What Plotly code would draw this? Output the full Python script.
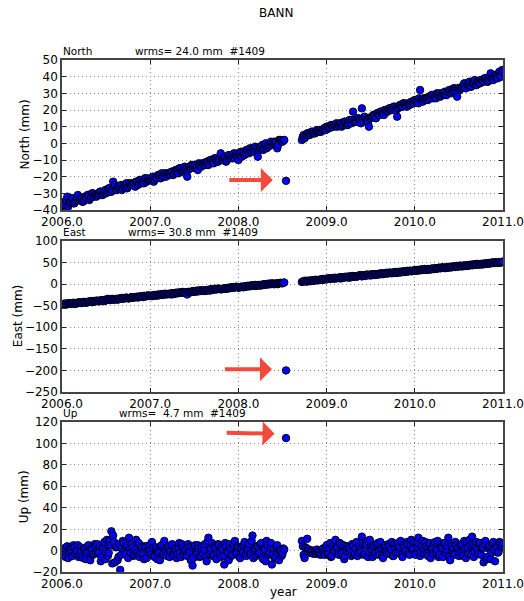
import plotly.graph_objects as go
from plotly.subplots import make_subplots

STATION = "BANN"

# sample epochs (decimal year), first set
EPOCHS = [
    2006.00, 2006.02, 2006.04, 2006.06, 2006.08, 2006.10, 2006.12, 2006.14, 2006.16, 2006.18,
    2006.20, 2006.22, 2006.24, 2006.26, 2006.28, 2006.30, 2006.32, 2006.34, 2006.36, 2006.38,
    2006.40, 2006.42, 2006.44, 2006.46, 2006.48, 2006.50, 2006.52, 2006.54, 2006.56, 2006.58,
    2006.60, 2006.62, 2006.64, 2006.66, 2006.68, 2006.70, 2006.72, 2006.74, 2006.76, 2006.78,
    2006.80, 2006.82, 2006.84, 2006.86, 2006.88, 2006.90, 2006.92, 2006.94, 2006.96, 2006.98,
    2007.00, 2007.02, 2007.04, 2007.06, 2007.08, 2007.10, 2007.12, 2007.14, 2007.16, 2007.18,
    2007.20, 2007.22, 2007.24, 2007.26, 2007.28, 2007.30, 2007.32, 2007.34, 2007.36, 2007.38,
    2007.40, 2007.42, 2007.44, 2007.46, 2007.48, 2007.50, 2007.52, 2007.54, 2007.56, 2007.58,
    2007.60, 2007.62, 2007.64, 2007.66, 2007.68, 2007.70, 2007.72, 2007.74, 2007.76, 2007.78,
    2007.80, 2007.82, 2007.84, 2007.86, 2007.88, 2007.90, 2007.92, 2007.94, 2007.96, 2007.98,
    2008.00, 2008.02, 2008.04, 2008.06, 2008.08, 2008.10, 2008.12, 2008.14, 2008.16, 2008.18,
    2008.20, 2008.22, 2008.24, 2008.26, 2008.28, 2008.30, 2008.32, 2008.34, 2008.36, 2008.38,
    2008.40, 2008.42, 2008.44, 2008.46, 2008.48, 2008.50, 2008.52,
    2008.54,
    2008.72, 2008.74, 2008.76, 2008.78, 2008.80, 2008.82, 2008.84, 2008.86, 2008.88, 2008.90,
    2008.92, 2008.94, 2008.96, 2008.98, 2009.00, 2009.02, 2009.04, 2009.06, 2009.08, 2009.10,
    2009.12, 2009.14, 2009.16, 2009.18, 2009.20, 2009.22, 2009.24, 2009.26, 2009.28, 2009.30,
    2009.32, 2009.34, 2009.36, 2009.38, 2009.40, 2009.42, 2009.44, 2009.46, 2009.48, 2009.50,
    2009.52, 2009.54, 2009.56, 2009.58, 2009.60, 2009.62, 2009.64, 2009.66, 2009.68, 2009.70,
    2009.72, 2009.74, 2009.76, 2009.78, 2009.80, 2009.82, 2009.84, 2009.86, 2009.88, 2009.90,
    2009.92, 2009.94, 2009.96, 2009.98, 2010.00, 2010.02, 2010.04, 2010.06, 2010.08, 2010.10,
    2010.12, 2010.14, 2010.16, 2010.18, 2010.20, 2010.22, 2010.24, 2010.26, 2010.28, 2010.30,
    2010.32, 2010.34, 2010.36, 2010.38, 2010.40, 2010.42, 2010.44, 2010.46, 2010.48, 2010.50,
    2010.52, 2010.54, 2010.56, 2010.58, 2010.60, 2010.62, 2010.64, 2010.66, 2010.68, 2010.70,
    2010.72, 2010.74, 2010.76, 2010.78, 2010.80, 2010.82, 2010.84, 2010.86, 2010.88, 2010.90,
    2010.92, 2010.94, 2010.96, 2010.98, 2011.00,
]

NORTH = [
    -38, -35, -37, -32, -36, -35, -33, -36, -34, -31,
    -34, -33, -35, -32, -33, -31, -33, -30, -32, -31,
    -31, -30, -29, -31, -29, -30, -28, -27, -29, -23,
    -25, -28, -27, -26, -28, -25, -26, -27, -24, -25,
    -25, -24, -23, -25, -22, -24, -23, -21, -23, -22,
    -22, -21, -23, -20, -21, -19, -21, -20, -18, -20,
    -19, -18, -17, -19, -17, -16, -18, -15, -17, -16,
    -16, -20, -14, -15, -13, -14, -15, -16, -13, -14,
    -13, -12, -11, -13, -10, -11, -12, -9, -11, -10,
    -6, -10, -9, -11, -8, -9, -7, -8, -9, -7,
    -10, -6, -8, -5, -6, -4, -6, -5, -3, -5,
    -4, -8, -3, -2, -4, -1, -3, -2, 0, -1,
    1, 0, -3, 2, 2, 1, 2,
    -22.5,
    2, 5, 4, 6, 5, 6, 7, 6, 7, 7,
    8, 7, 8, 9, 10, 9, 10, 11, 10, 11,
    10, 11, 12, 11, 13, 12, 11, 14, 12, 19,
    14, 13, 15, 14, 21, 13, 15, 14, 10, 15,
    16, 17, 15, 18, 17, 19, 18, 20, 19, 20,
    21, 20, 22, 21, 16, 22, 23, 22, 24, 23,
    24, 23, 25, 24, 26, 25, 24, 32, 26, 27,
    26, 27, 28, 27, 29, 28, 27, 29, 30, 29,
    30, 31, 29, 31, 32, 31, 33, 32, 28, 33,
    33, 34, 36, 33, 35, 37, 34, 36, 38, 35,
    37, 36, 38, 37, 39, 37, 38, 42, 39, 40,
    41, 39, 43, 40, 43,
]

EAST = [
    -47, -46, -48, -45, -46, -45, -44, -46, -44, -43,
    -43, -44, -42, -42, -43, -41, -40, -42, -40, -40,
    -39, -40, -38, -38, -39, -37, -34, -37, -36, -35,
    -35, -34, -35, -33, -34, -33, -32, -32, -33, -31,
    -31, -31, -30, -31, -29, -29, -30, -28, -28, -27,
    -27, -28, -26, -26, -25, -26, -24, -25, -23, -24,
    -23, -22, -24, -21, -22, -20, -21, -20, -19, -20,
    -20, -24, -18, -19, -17, -18, -16, -17, -15, -16,
    -15, -16, -14, -13, -15, -12, -13, -11, -12, -11,
    -12, -11, -10, -11, -9, -8, -9, -7, -8, -6,
    -8, -7, -6, -7, -5, -4, -5, -3, -4, -2,
    -4, -3, -2, -3, -1, 0, -1, 1, 0, 2,
    0, 1, 0, 2, 3, 2, 4,
    -200,
    5, 7, 8, 6, 8, 7, 9, 8, 10, 9,
    10, 11, 10, 12, 11, 13, 12, 14, 13, 13,
    14, 15, 13, 16, 15, 17, 16, 15, 18, 17,
    18, 17, 19, 21, 18, 20, 19, 22, 21, 20,
    22, 21, 23, 22, 24, 25, 23, 24, 26, 25,
    26, 25, 27, 28, 26, 28, 27, 29, 28, 30,
    29, 31, 30, 31, 32, 31, 33, 32, 34, 33,
    34, 33, 35, 34, 36, 35, 37, 36, 38, 37,
    38, 37, 39, 38, 40, 39, 41, 40, 42, 41,
    42, 41, 43, 42, 44, 43, 45, 44, 46, 45,
    46, 45, 47, 46, 48, 47, 49, 48, 50, 49,
    50, 49, 51, 50, 52,
]

UP = [
    -3, 2, -6, 4, -2, 1, -5, 3, -1, 5,
    -4, 0, -7, 2, -2, 5, -9, 1, -3, 4,
    6, -2, -10, 3, 8, -1, -5, 9, 18, 14,
    -11, 4, -6, -18, 2, 7, -3, 5, 12, -2,
    3, -4, 10, -1, -6, 2, -3, 4, -7, 1,
    0, 8, -5, 2, -8, -2, 4, -4, 9, -1,
    2, -6, 5, -3, 1, -7, 3, -2, 6, -4,
    1, -5, 3, -9, -14, 4, -2, 5, -6, 2,
    -3, 6, -10, 12, 0, 7, -4, 3, -2, 5,
    -6, 1, -13, 4, -2, 6, -5, 2, 9, -3,
    3, -7, 1, 5, -4, 2, 6, -3, 14, 0,
    -5, 4, -2, 7, -8, 1, 9, -4, 3, -13,
    2, -6, 5, -9, 1, -3, 1,
    105,
    9, -4, 3, 11, 1, -2, 0, -1, -3, -2,
    -1, -3, 2, -4, 5, -2, 7, -5, 1, 10,
    3, -4, 6, -2, -8, 4, -1, 2, -5, 5,
    -3, 8, -2, 1, 13, -4, 6, 9, -1, 3,
    -6, 5, -2, 7, -4, 2, -7, 4, -1, 6,
    -3, 8, -5, 2, 5, -2, 9, -6, 3, 0,
    6, -4, 10, 2, -3, 7, 12, -5, 4, 1,
    8, -3, 5, -7, 2, 6, -2, 9, -4, 3,
    -6, 7, 1, 12, -9, 4, -3, 8, 2, -5,
    5, -2, 9, -7, 3, 10, -4, 6, -1, 8,
    -3, 7, 2, -11, 9, -6, 4, -8, 6, 1,
    5, -2, 8, 3, 7,
]

# second, interleaved set of epochs
EPOCHS_B = [
    2006.01, 2006.03, 2006.05, 2006.07, 2006.09, 2006.11, 2006.13, 2006.15, 2006.17, 2006.19,
    2006.21, 2006.23, 2006.25, 2006.27, 2006.29, 2006.31, 2006.33, 2006.35, 2006.37, 2006.39,
    2006.41, 2006.43, 2006.45, 2006.47, 2006.49, 2006.51, 2006.53, 2006.55, 2006.57, 2006.59,
    2006.61, 2006.63, 2006.65, 2006.67, 2006.69, 2006.71, 2006.73, 2006.75, 2006.77, 2006.79,
    2006.81, 2006.83, 2006.85, 2006.87, 2006.89, 2006.91, 2006.93, 2006.95, 2006.97, 2006.99,
    2007.01, 2007.03, 2007.05, 2007.07, 2007.09, 2007.11, 2007.13, 2007.15, 2007.17, 2007.19,
    2007.21, 2007.23, 2007.25, 2007.27, 2007.29, 2007.31, 2007.33, 2007.35, 2007.37, 2007.39,
    2007.41, 2007.43, 2007.45, 2007.47, 2007.49, 2007.51, 2007.53, 2007.55, 2007.57, 2007.59,
    2007.61, 2007.63, 2007.65, 2007.67, 2007.69, 2007.71, 2007.73, 2007.75, 2007.77, 2007.79,
    2007.81, 2007.83, 2007.85, 2007.87, 2007.89, 2007.91, 2007.93, 2007.95, 2007.97, 2007.99,
    2008.01, 2008.03, 2008.05, 2008.07, 2008.09, 2008.11, 2008.13, 2008.15, 2008.17, 2008.19,
    2008.21, 2008.23, 2008.25, 2008.27, 2008.29, 2008.31, 2008.33, 2008.35, 2008.37, 2008.39,
    2008.41, 2008.43, 2008.45, 2008.47, 2008.49, 2008.51,
    2008.73, 2008.75, 2008.77, 2008.79, 2008.81, 2008.83, 2008.85, 2008.87, 2008.89, 2008.91,
    2008.93, 2008.95, 2008.97, 2008.99, 2009.01, 2009.03, 2009.05, 2009.07, 2009.09, 2009.11,
    2009.13, 2009.15, 2009.17, 2009.19, 2009.21, 2009.23, 2009.25, 2009.27, 2009.29, 2009.31,
    2009.33, 2009.35, 2009.37, 2009.39, 2009.41, 2009.43, 2009.45, 2009.47, 2009.49, 2009.51,
    2009.53, 2009.55, 2009.57, 2009.59, 2009.61, 2009.63, 2009.65, 2009.67, 2009.69, 2009.71,
    2009.73, 2009.75, 2009.77, 2009.79, 2009.81, 2009.83, 2009.85, 2009.87, 2009.89, 2009.91,
    2009.93, 2009.95, 2009.97, 2009.99, 2010.01, 2010.03, 2010.05, 2010.07, 2010.09, 2010.11,
    2010.13, 2010.15, 2010.17, 2010.19, 2010.21, 2010.23, 2010.25, 2010.27, 2010.29, 2010.31,
    2010.33, 2010.35, 2010.37, 2010.39, 2010.41, 2010.43, 2010.45, 2010.47, 2010.49, 2010.51,
    2010.53, 2010.55, 2010.57, 2010.59, 2010.61, 2010.63, 2010.65, 2010.67, 2010.69, 2010.71,
    2010.73, 2010.75, 2010.77, 2010.79, 2010.81, 2010.83, 2010.85, 2010.87, 2010.89, 2010.91,
    2010.93, 2010.95, 2010.97, 2010.99,
]

NORTH_B = [
    -37, -36, -34, -38, -35, -33, -36, -35, -33, -34,
    -33, -35, -34, -32, -31, -34, -32, -30, -31, -32,
    -31, -29, -31, -30, -28, -29, -27, -29, -28, -26,
    -28, -26, -27, -25, -27, -26, -24, -26, -25, -24,
    -24, -26, -23, -24, -22, -23, -24, -21, -22, -21,
    -22, -20, -22, -21, -19, -20, -18, -20, -19, -18,
    -18, -19, -17, -18, -16, -17, -15, -17, -16, -14,
    -15, -16, -15, -13, -14, -13, -14, -12, -13, -12,
    -12, -13, -11, -12, -10, -11, -9, -10, -11, -8,
    -10, -9, -8, -10, -7, -8, -9, -6, -7, -6,
    -7, -5, -6, -7, -4, -5, -3, -5, -4, -2,
    -3, -4, -2, -1, -3, 0, -2, -1, 1, 0,
    0, 1, -1, 2, 1, 2,
    4, 3, 5, 6, 5, 7, 6, 6, 8, 7,
    7, 8, 9, 8, 10, 9, 11, 10, 11, 12,
    11, 12, 10, 12, 13, 11, 12, 13, 14, 13,
    13, 15, 14, 12, 15, 16, 14, 13, 15, 16,
    17, 16, 18, 17, 19, 18, 17, 20, 19, 21,
    20, 21, 22, 20, 21, 23, 22, 24, 23, 22,
    23, 24, 25, 24, 26, 25, 27, 26, 25, 27,
    27, 26, 28, 29, 27, 28, 30, 29, 28, 30,
    30, 29, 31, 32, 30, 32, 33, 31, 33, 32,
    33, 35, 34, 36, 35, 34, 37, 36, 35, 37,
    36, 38, 37, 39, 38, 37, 40, 39, 38, 41,
    40, 42, 41, 44,
]

EAST_B = [
    -47, -45, -46, -44, -45, -46, -43, -44, -45, -42,
    -43, -42, -41, -43, -41, -40, -41, -39, -40, -38,
    -39, -38, -37, -39, -36, -37, -35, -36, -34, -36,
    -35, -36, -33, -34, -32, -33, -31, -33, -32, -30,
    -31, -30, -29, -30, -28, -29, -27, -28, -26, -27,
    -27, -26, -25, -27, -24, -25, -23, -24, -22, -23,
    -23, -22, -21, -23, -20, -21, -19, -20, -18, -19,
    -19, -18, -19, -17, -16, -17, -15, -16, -14, -15,
    -15, -14, -15, -13, -12, -13, -11, -12, -10, -11,
    -12, -10, -11, -9, -10, -8, -7, -8, -6, -7,
    -8, -6, -7, -5, -6, -4, -5, -3, -4, -2,
    -4, -2, -3, -1, -2, 0, -1, 1, 0, 1,
    0, 2, 1, 3, 2, 3,
    6, 7, 6, 8, 7, 9, 8, 10, 9, 10,
    10, 12, 11, 12, 13, 12, 14, 13, 15, 14,
    14, 16, 15, 16, 17, 16, 18, 17, 19, 18,
    18, 19, 20, 19, 21, 20, 22, 21, 22, 23,
    22, 23, 22, 24, 23, 25, 24, 26, 25, 27,
    26, 27, 26, 28, 27, 29, 28, 30, 29, 31,
    30, 31, 30, 32, 31, 33, 32, 34, 33, 35,
    34, 35, 34, 36, 35, 37, 36, 38, 37, 39,
    38, 39, 38, 40, 39, 41, 40, 42, 41, 43,
    42, 43, 42, 44, 43, 45, 44, 46, 45, 47,
    46, 47, 46, 48, 47, 49, 48, 50, 49, 51,
    50, 51, 50, 52,
]

UP_B = [
    1, -4, 3, -7, 2, -2, 5, -3, 0, -6,
    3, -5, 1, -8, 4, -1, 2, -4, 6, -2,
    -3, 4, -6, 1, -8, 10, -2, 5, -12, 8,
    3, -9, 6, -4, 9, -1, 4, -7, 2, 6,
    -5, 1, -3, 7, -2, 4, -8, 3, -1, 5,
    -4, 2, -6, 3, 0, -9, 5, -3, 1, -5,
    4, -1, 6, -5, 2, -3, 7, -6, 3, 0,
    -4, 6, -1, 3, -7, 5, -3, 2, -5, 4,
    1, -6, 8, -3, 2, -5, 4, -8, 6, -2,
    3, -5, 7, -1, -9, 2, -4, 5, -2, 4,
    -6, 3, -2, 8, -5, 1, -3, 9, -7, 2,
    4, -3, 6, -6, 2, -10, 5, -2, 7, -4,
    -7, 3, -2, 0, -5, 2,
    4, -7, 2, 1, -2, 0, -3, -2, 1, -1,
    -4, 0, -2, 3, -3, 2, -6, 4, -1, 3,
    -2, 7, -3, 5, -5, 1, 4, -2, 6, -4,
    2, -5, 4, -1, 7, -3, 5, -6, 10, 1,
    3, -4, 6, -1, 8, -5, 2, 5, -3, 4,
    1, -5, 6, -2, 7, 3, -4, 5, -1, 8,
    -2, 5, 1, 8, -4, 3, 6, -1, 9, -3,
    4, -5, 7, 2, -3, 8, 1, -6, 5, 2,
    7, -2, 4, -6, 6, 1, -4, 5, 3, -2,
    6, -5, 2, 8, -3, 5, 13, -6, 4, 1,
    7, -4, 3, 6, -8, 2, 5, -2, 8, -10,
    3, -1, 6, 4,
]

COMPONENTS = ["North", "East", "Up"]
SERIES = [NORTH, EAST, UP]
SERIES_B = [NORTH_B, EAST_B, UP_B]
WRMS_TEXT = ["wrms= 24.0 mm\u00a0 #1409", "wrms= 30.8 mm\u00a0 #1409", "wrms=\u00a0 4.7 mm\u00a0 #1409"]
Y_RANGES = [(-40, 50, 10), (-250, 100, 50), (-20, 120, 20)]
X_RANGE = (2006.0, 2011.0)
X_TICKS = [2006.0, 2007.0, 2008.0, 2009.0, 2010.0, 2011.0]

# red arrows pointing at the outlier: (tail_x, tail_y, tip_x, tip_y)
ARROWS = [
    (2007.88, -22.0, 2008.39, -22.0),
    (2007.83, -197.0, 2008.38, -197.0),
    (2007.85, 110.0, 2008.41, 109.0),
]

FONT = "DejaVu Sans"
W, H = 524, 601
L, R, T, B = 62, 21, 60, 29
PANEL_PX = [(60, 210), (241, 392), (422, 572)]
PH = H - T - B


def py(px):
    return (H - B - px) / PH


def px_x(px):
    return (px - L) / (W - L - R)


fig = make_subplots(rows=3, cols=1)

for i in range(3):
    # interleave the two epoch sets in time order
    pairs = sorted(list(zip(EPOCHS, SERIES[i])) + list(zip(EPOCHS_B, SERIES_B[i])))
    xs = [p[0] for p in pairs]
    ys = [p[1] for p in pairs]
    fig.add_trace(
        go.Scatter(
            x=xs, y=ys, mode="markers",
            marker=dict(color="#0000ff", size=7.5, line=dict(color="black", width=0.9)),
            showlegend=False, hoverinfo="x+y",
        ),
        row=i + 1, col=1,
    )

axis_common = dict(
    showline=True, mirror="ticks", linecolor="#444", linewidth=1.5,
    ticks="inside", ticklen=4, tickcolor="#222", tickwidth=1,
    showgrid=True, gridcolor="#8a8a8a", griddash="1px,3px", gridwidth=1,
    zeroline=False, tickfont=dict(family=FONT, size=12, color="black"),
    automargin=False,
)

layout_updates = {}
for i in range(3):
    top, bot = PANEL_PX[i]
    lo, hi, dt = Y_RANGES[i]
    sfx = "" if i == 0 else str(i + 1)
    layout_updates["xaxis" + sfx] = dict(
        axis_common, range=list(X_RANGE), tickvals=X_TICKS, tickformat=".1f",
        domain=[0, 1],
    )
    layout_updates["yaxis" + sfx] = dict(
        axis_common, range=[lo, hi], dtick=dt, tick0=lo,
        domain=[py(bot), py(top)],
    )
fig.update_layout(**layout_updates)

annotations = []
annotations.append(dict(
    text=STATION, xref="paper", yref="paper", x=px_x(276), y=py(13),
    xanchor="center", yanchor="middle", showarrow=False, borderpad=0,
    font=dict(family=FONT, size=12, color="black"),
))
label_y = [51, 232, 412.5]
wrms_x = [134, 127, 118]
ylab_x = [24.5, 17.7, 24.3]
for i in range(3):
    top, bot = PANEL_PX[i]
    annotations.append(dict(
        text=COMPONENTS[i], xref="paper", yref="paper", x=px_x(62), y=py(label_y[i]),
        xanchor="left", yanchor="middle", showarrow=False, borderpad=0,
        font=dict(family=FONT, size=10.5, color="black"),
    ))
    annotations.append(dict(
        text=WRMS_TEXT[i], xref="paper", yref="paper", x=px_x(wrms_x[i]), y=py(label_y[i]),
        xanchor="left", yanchor="middle", showarrow=False, borderpad=0,
        font=dict(family=FONT, size=10.5, color="black"),
    ))
    annotations.append(dict(
        text=COMPONENTS[i] + " (mm)", xref="paper", yref="paper", x=px_x(ylab_x[i]),
        y=py((top + bot) / 2), xanchor="center", yanchor="middle", textangle=-90,
        showarrow=False, borderpad=0, font=dict(family=FONT, size=12, color="black"),
    ))
    sfx = "" if i == 0 else str(i + 1)
    tx, ty, hx, hy = ARROWS[i]
    annotations.append(dict(
        text="", x=hx, y=hy, ax=tx, ay=ty, xref="x" + sfx, yref="y" + sfx,
        axref="x" + sfx, ayref="y" + sfx, showarrow=True, arrowhead=1,
        arrowsize=1.0, arrowwidth=4, arrowcolor="#f24a3c", standoff=0,
    ))

annotations.append(dict(
    text="year", xref="paper", yref="paper", x=px_x(283), y=py(592),
    xanchor="center", yanchor="middle", showarrow=False, borderpad=0,
    font=dict(family=FONT, size=12, color="black"),
))

fig.update_layout(
    width=W, height=H, margin=dict(l=L, r=R, t=T, b=B, pad=0),
    paper_bgcolor="white", plot_bgcolor="white",
    annotations=annotations,
    font=dict(family=FONT, size=12, color="black"),
)

fig.write_html(
    "out.html",
    config={"displayModeBar": False},
    post_script="document.body.style.margin='0';document.body.style.padding='0';",
)
